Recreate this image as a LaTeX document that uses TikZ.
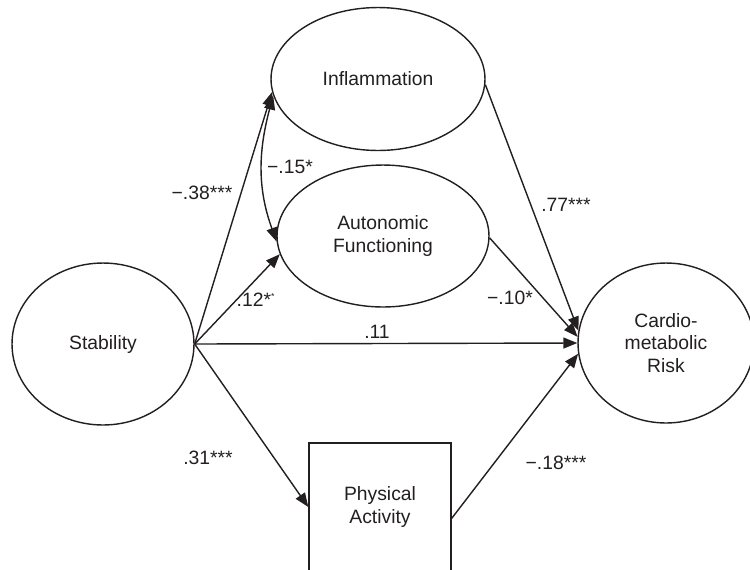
\documentclass[tikz,border=0pt]{standalone}
\usepackage{fontspec}
\setmainfont{Liberation Sans}
\usepackage{tikz}
\usetikzlibrary{arrows.meta,shapes,positioning}
\usepackage{xcolor}
\definecolor{pathblack}{RGB}{35,31,32}
\tikzstyle{latent} = [ellipse, draw=pathblack, inner sep=0pt, align=center, text=pathblack, line width=0.8pt]
\tikzstyle{observed} = [rectangle, draw=pathblack, inner sep=0pt, align=center, text=pathblack, line width=0.8pt]
\tikzstyle{arrow} = [line width=0.8pt, -{Triangle[length=2.8mm,width=2.2mm]}, color=pathblack]
\tikzstyle{coef} = [text=pathblack, font=\fontsize{11}{13}\selectfont]

\begin{document}
\begin{tikzpicture}[x=0.02cm, y=-0.02cm, font=\fontsize{11}{13}\selectfont]
\useasboundingbox (0,0) rectangle (750,569);
\node[latent, minimum width=3.64cm, minimum height=3.24cm] (stab) at (103,344) {Stability};
\node[latent, minimum width=4.28cm, minimum height=2.86cm] (infl) at (378,79) {Inflammation};
\node[latent, minimum width=4.24cm, minimum height=2.84cm] (auto) at (383,236) {Autonomic\\Functioning};
\node[latent, minimum width=3.52cm, minimum height=3.2cm] (risk) at (666,343) {Cardio-\\metabolic\\Risk};
\node[observed, minimum width=2.84cm, minimum height=2.56cm] (phys) at (380,507) {Physical\\Activity};
\draw[arrow] (stab.east) -- (infl.187);
\draw[arrow] (stab.east) -- (auto.190);
\draw[arrow] (stab.east) -- (risk.west);
\draw[arrow] (stab.east) -- (phys.west);
\draw[arrow] (infl.-3) -- (risk.172);
\draw[arrow] (auto.-1) -- (risk.176);
\draw[arrow] (phys.-9) -- (risk.187);
\draw[arrow, {Triangle[length=2.8mm,width=2.2mm]}-{Triangle[length=2.8mm,width=2.2mm]}] (infl.189) to[out=255,in=110] (auto.183);
\node[coef] (c1) at (202,193) {−.38***};
\node[coef] (c2) at (290,167) {−.15*};
\node[coef] (c3) at (256,300) {.12*\textsuperscript{\tiny*}};
\node[coef] (c4) at (377,332) {.11};
\node[coef] (c5) at (566,205) {.77***};
\node[coef] (c6) at (510,298) {−.10*};
\node[coef] (c7) at (208,458) {.31***};
\node[coef] (c8) at (556,463) {−.18***};
\end{tikzpicture}
\end{document}
